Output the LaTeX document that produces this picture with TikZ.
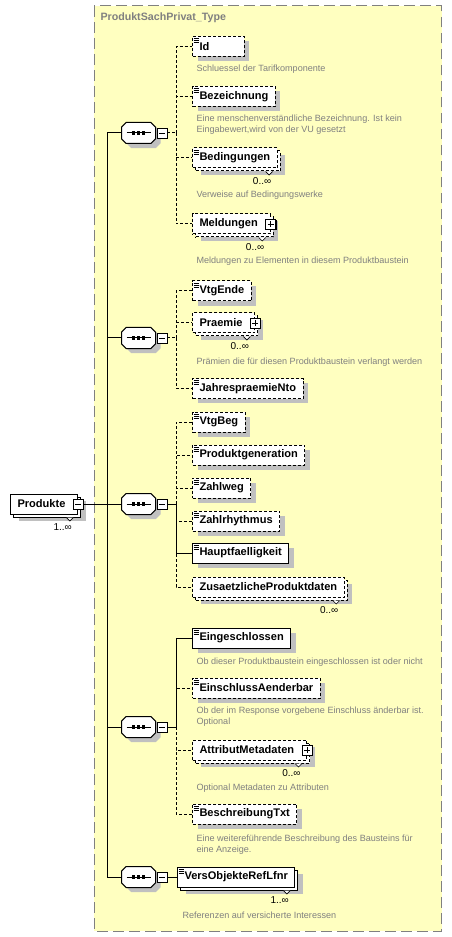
\documentclass[tikz,border=0pt]{standalone}
\usepackage{fontspec}
\setmainfont{Liberation Sans}
\usetikzlibrary{shadows}

\definecolor{typeyellow}{RGB}{255,255,192}
\definecolor{typegray}{RGB}{128,128,128}
\definecolor{shadegray}{RGB}{192,192,192}

\tikzset{
  elem/.style={draw, fill=white, anchor=west, inner xsep=5.25pt, inner ysep=0pt,
    minimum height=15pt, font=\bfseries\fontsize{8.3}{9.6}\selectfont},
  opt/.style={dash pattern=on 2.25pt off 1.5pt},
  once/.style={drop shadow={shadow xshift=3.75pt, shadow yshift=-3.4pt, fill=shadegray, opacity=1}},
  many/.style={drop shadow={shadow xshift=6pt, shadow yshift=-5.6pt, fill=shadegray, opacity=1},
    copy shadow={shadow xshift=2.25pt, shadow yshift=-2.25pt, draw=black, #1}},
  many/.default={},
  simple/.style={path picture={
    \foreach \dy in {2,4,6}
      \draw[solid, line width=0.6pt] ([shift={(1,\dy)}]path picture bounding box.north west) -- ++(5.5,0);}},
  pad/.style={execute at end node={\hspace{#1}}},
  cplx/.style={pad=4pt},
  markbox/.style={draw, solid, fill=white, minimum size=7.5pt, inner sep=0pt, line width=0.6pt,
    drop shadow={shadow xshift=0.75pt, shadow yshift=-0.75pt, fill=black, opacity=1}},
  minusbox/.style={markbox, path picture={
    \draw (path picture bounding box.center) +(-3,0) -- +(3,0);}},
  plusbox/.style={markbox, path picture={
    \draw (path picture bounding box.center) +(-3,0) -- +(3,0) +(0,-3) -- +(0,3);}},
  seq/.style={minimum width=24.75pt, minimum height=15pt, inner sep=0pt},
  notch/.style={fill=white, line width=0.5pt},
  card/.style={anchor=base east, inner sep=0pt, font=\fontsize{7.5}{9}\selectfont},
  note/.style={anchor=base west, inner sep=0pt, text=typegray, font=\fontsize{6.8}{8.25}\selectfont},
}

\begin{document}
\begin{tikzpicture}[x=0.75pt, y=-0.75pt, line width=0.75pt]
\useasboundingbox (0,0) rectangle (452,937);
% complex type frame
\draw[typegray, fill=typeyellow, dash pattern=on 8pt off 4pt] (94,6) rectangle (441.5,931);
\node[anchor=base west, inner sep=0pt, text=typegray, font=\bfseries\fontsize{8}{9.6}\selectfont] (ttl) at (100,21) {ProduktSachPrivat\_Type};

% root element
\node[elem, cplx, many] (prod) at (10,504) {Produkte};
\node[minusbox] (prodm) at (prod.east) {};
\node[card] (prodc) at ([shift={(-6,16)}]prod.south east) {1..∞};
\coordinate (tr) at (107,504);

% sequences
\foreach \n/\y in {1/133, 2/338, 3/504, 4/727, 5/877} {
  \node[seq] (s\n) at (138.5,\y) {};
  \draw[fill=white, once] ([xshift=3.5pt]s\n.north west) -- ([xshift=-3.5pt]s\n.north east)
    -- ([yshift=-3.5pt]s\n.north east) -- ([yshift=3.5pt]s\n.south east)
    -- ([xshift=-3.5pt]s\n.south east) -- ([xshift=3.5pt]s\n.south west)
    -- ([yshift=3.5pt]s\n.south west) -- ([yshift=-3.5pt]s\n.north west) -- cycle;
  \draw ([xshift=3.75pt]s\n.west) -- ([xshift=-3.75pt]s\n.east);
  \foreach \dx in {-3.75,0,3.75}
    \fill ([xshift=\dx pt]s\n.center) +(-1.6,-1.6) rectangle +(1.6,1.6);
  \node[minusbox] (sm\n) at (162,\y) {};
  \coordinate (b\n) at (176,\y);
}

% sequence 1
\node[elem, opt, simple, once, pad=21pt] (id) at (192,46.5) {Id};
\node[note] (idn) at (196,72) {Schluessel der Tarifkomponente};
\node[elem, opt, simple, once] (bez) at (192,96.5) {Bezeichnung};
\node[note] (bezn1) at (196,121.5) {Eine menschenverständliche Bezeichnung. Ist kein};
\node[note] (bezn2) at (196,132.5) {Eingabewert,wird von der VU gesetzt};
\node[elem, opt, simple, many=opt] (bed) at (192,158) {Bedingungen};
\node[card] (bedc) at ([shift={(-6,16)}]bed.south east) {0..∞};
\node[note] (bedn) at (196,197.5) {Verweise auf Bedingungswerke};
\node[elem, opt, cplx, many=opt] (mel) at (192,224) {Meldungen};
\node[plusbox] (melp) at (mel.east) {};
\node[card] (melc) at ([shift={(-6,16)}]mel.south east) {0..∞};
\node[note] (meln) at (196,263.5) {Meldungen zu Elementen in diesem Produktbaustein};

% sequence 2
\node[elem, opt, simple, once] (vte) at (192,291) {VtgEnde};
\node[elem, opt, cplx, many=opt] (pra) at (192,323) {Praemie};
\node[plusbox] (prap) at (pra.east) {};
\node[card] (prac) at ([shift={(-6,16)}]pra.south east) {0..∞};
\node[note] (pran) at (196,364) {Prämien die für diesen Produktbaustein verlangt werden};
\node[elem, opt, simple, once] (jpn) at (192,388.5) {JahrespraemieNto};

% sequence 3
\node[elem, opt, simple, once] (vtb) at (192,422) {VtgBeg};
\node[elem, opt, simple, once] (pgen) at (192,455) {Produktgeneration};
\node[elem, opt, simple, once] (zw) at (192,488) {Zahlweg};
\node[elem, opt, simple, once] (zr) at (192,521) {Zahlrhythmus};
\node[elem, simple, once] (hf) at (192,553) {Hauptfaelligkeit};
\node[elem, opt, many=opt] (zpd) at (192,587) {ZusaetzlicheProduktdaten};
\node[card] (zpdc) at ([shift={(-6,16)}]zpd.south east) {0..∞};

% sequence 4
\node[elem, simple, once] (ein) at (192,638) {Eingeschlossen};
\node[note] (einn) at (196,664) {Ob dieser Produktbaustein eingeschlossen ist oder nicht};
\node[elem, opt, simple, once] (eae) at (192,688) {EinschlussAenderbar};
\node[note] (eaen1) at (196,713) {Ob der im Response vorgebene Einschluss änderbar ist.};
\node[note] (eaen2) at (196,724.5) {Optional};
\node[elem, opt, cplx, many=opt] (amd) at (192,750) {AttributMetadaten};
\node[plusbox] (amdp) at (amd.east) {};
\node[card] (amdc) at ([shift={(-6,16)}]amd.south east) {0..∞};
\node[note] (amdn) at (196,790) {Optional Metadaten zu Attributen};
\node[elem, opt, simple, once] (bst) at (192,814) {BeschreibungTxt};
\node[note] (bstn1) at (196,841.5) {Eine weitereführende Beschreibung des Bausteins für};
\node[note] (bstn2) at (196,852.5) {eine Anzeige.};

% sequence 5
\node[elem, simple, many] (vor) at (177,877) {VersObjekteRefLfnr};
\node[card] (vorc) at ([shift={(-6,16)}]vor.south east) {1..∞};
\node[note] (vorn) at (182,918) {Referenzen auf versicherte Interessen};

% little markers under repeated elements
\foreach \m in {prod,bed,mel,pra,zpd,amd,vor}
  \draw[notch] ([shift={(-12,3)}]\m.south east) -- ++(3.5,3.5) -- ++(3.5,-3.5);

% connectors
\draw (prodm) -- (tr);
\foreach \n in {1,...,5}
  \draw (tr) |- (s\n.west);
\draw[opt] (sm1) -- (b1);
\foreach \c in {id,bez,bed,mel}
  \draw[opt] (b1) |- (\c.west);
\draw[opt] (sm2) -- (b2);
\foreach \c in {vte,pra,jpn}
  \draw[opt] (b2) |- (\c.west);
\foreach \c in {vtb,pgen,zw,zr,zpd}
  \draw[opt] (b3) |- (\c.west);
\draw (sm3) -- (b3) |- (hf.west);
\foreach \c in {eae,amd,bst}
  \draw[opt] (b4) |- (\c.west);
\draw (sm4) -- (b4) |- (ein.west);
\draw (sm5) -- (vor);
\end{tikzpicture}
\end{document}
